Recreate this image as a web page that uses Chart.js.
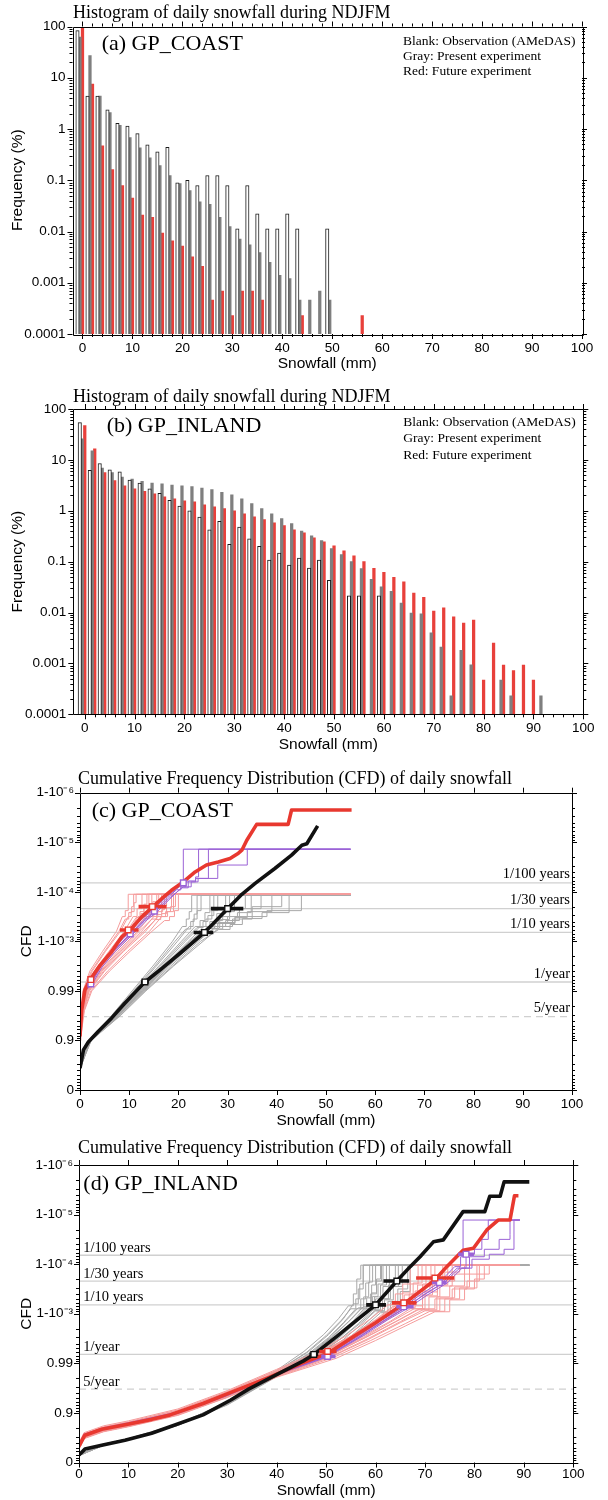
<!DOCTYPE html>
<html lang="en">
<head>
<meta charset="UTF-8">
<title>Daily snowfall: histograms and CFD</title>
<script src="https://cdn.jsdelivr.net/npm/chart.js"></script>
<style>
  body { margin: 0; width: 608px; height: 1500px; background: #fff; position: relative; overflow: hidden; }
  canvas { position: absolute; left: 0; }
</style>
</head>
<body>
<canvas id="coastHist" width="608" height="385" style="top:0px"></canvas>
<canvas id="inlandHist" width="608" height="385" style="top:385px"></canvas>
<canvas id="coastCfd" width="608" height="380" style="top:760px"></canvas>
<canvas id="inlandCfd" width="608" height="360" style="top:1140px"></canvas>
<script>
// ---------- histogram data: bin position (mm), frequency (%) ----------
var coastObsX = [-1, 1, 3, 5, 7, 9, 11, 13, 15, 17, 19, 21, 23, 25, 27, 29, 31, 33, 35, 37, 39, 41, 43, 49];
var coastObsPct = [83, 4.4, 4.4, 2.36, 1.29, 1.14, 0.81, 0.49, 0.36, 0.44, 0.089, 0.1, 0.079, 0.124, 0.124, 0.079, 0.0113, 0.079, 0.022, 0.0113, 0.0113, 0.022, 0.0113, 0.0113];
var coastPresX = [-0.5, 1.5, 3.5, 5.5, 7.5, 9.5, 11.5, 13.5, 15.5, 17.5, 19.5, 21.5, 23.5, 25.5, 27.5, 29.5, 31.5, 33.5, 35.5, 37.5, 39.5, 41.5, 43.5, 45.5, 47.5, 49.5];
var coastPresPct = [62, 27, 4.4, 2.1, 1.18, 0.68, 0.43, 0.275, 0.194, 0.124, 0.086, 0.063, 0.038, 0.034, 0.019, 0.0125, 0.0071, 0.0055, 0.0039, 0.0025, 0.0014, 0.0012, 0.00046, 0.00046, 0.00069, 0.00046];
var coastFutX = [0, 2, 4, 6, 8, 10, 12, 14, 16, 18, 20, 22, 24, 26, 28, 30, 32, 34, 36, 44, 56];
var coastFutPct = [93, 7.5, 0.47, 0.162, 0.079, 0.045, 0.021, 0.0188, 0.0093, 0.0066, 0.0052, 0.0032, 0.0021, 0.00046, 0.00069, 0.00023, 0.00069, 0.00069, 0.00046, 0.00023, 0.00023];

var inlandObsX = [-1, 1, 3, 5, 7, 9, 11, 13, 15, 17, 19, 21, 23, 25, 27, 29, 31, 33, 35, 37, 39, 41, 43, 45, 47, 49, 53, 55, 59];
var inlandObsPct = [54, 6.2, 8.5, 6.4, 5.8, 4.0, 3.5, 2.7, 2.2, 1.6, 1.24, 1.0, 0.75, 0.42, 0.62, 0.22, 0.48, 0.28, 0.2, 0.107, 0.148, 0.086, 0.118, 0.075, 0.107, 0.043, 0.0214, 0.0214, 0.0214];
var inlandPresX = [-0.5, 1.5, 3.5, 5.5, 7.5, 9.5, 11.5, 13.5, 15.5, 17.5, 19.5, 21.5, 23.5, 25.5, 27.5, 29.5, 31.5, 33.5, 35.5, 37.5, 39.5, 41.5, 43.5, 45.5, 47.5, 49.5, 51.5, 53.5, 55.5, 57.5, 59.5, 61.5, 63.5, 65.5, 67.5, 69.5, 71.5, 73.5, 75.5, 77.5, 83.5, 85.5, 91.5];
var inlandPresPct = [26, 15, 6.9, 5.6, 4.6, 4.2, 3.8, 3.5, 3.4, 3.2, 3.1, 3.0, 2.8, 2.6, 2.3, 2.06, 1.72, 1.39, 1.1, 0.87, 0.7, 0.56, 0.40, 0.32, 0.26, 0.18, 0.137, 0.1, 0.073, 0.045, 0.032, 0.026, 0.0154, 0.0098, 0.0094, 0.004, 0.0021, 0.00023, 0.0018, 0.00094, 0.00047, 0.00023, 0.00023];
var inlandFutX = [0, 2, 4, 6, 8, 10, 12, 14, 16, 18, 20, 22, 24, 26, 28, 30, 32, 34, 36, 38, 40, 42, 44, 46, 48, 50, 52, 54, 56, 58, 60, 62, 64, 66, 68, 70, 72, 74, 76, 78, 80, 82, 84, 86, 88, 90];
var inlandFutPct = [47, 16.5, 5.6, 3.9, 3.1, 2.7, 2.4, 2.16, 1.88, 1.72, 1.57, 1.5, 1.31, 1.2, 1.1, 1.0, 0.87, 0.76, 0.67, 0.58, 0.51, 0.42, 0.37, 0.295, 0.246, 0.205, 0.164, 0.13, 0.1, 0.074, 0.062, 0.049, 0.04, 0.024, 0.02, 0.0107, 0.0124, 0.0082, 0.0062, 0.0071, 0.00047, 0.0025, 0.00093, 0.00072, 0.00093, 0.00047];

var freqTicks = [0.0001, 0.001, 0.01, 0.1, 1, 10, 100];
var freqLabels = ['0.0001', '0.001', '0.01', '0.1', '1', '10', '100'];
var snowTicks = [0, 10, 20, 30, 40, 50, 60, 70, 80, 90, 100];

// ---------- CFD data: y is -log10(1 - CFD) ----------
var cfdTicks = [0, 1, 2, 3, 4, 5, 6];
var cfdLabels = ['0', '0.9', '0.99', '1-10\u207B\u00B3', '1-10\u207B\u2074', '1-10\u207B\u2075', '1-10\u207B\u2076'];
var returnLevels = [4.18, 3.66, 3.18, 2.18, 1.48];
var returnLabels = ['1/100 years', '1/30 years', '1/10 years', '1/year', '5/year'];

// GP_COAST thick curves
var coastPresAllX = [0, 0.7, 1.7, 3.7, 6.4, 9.1, 13.2, 16.6, 20.7, 25.3, 27.4, 30.0, 32.9, 35.6, 39.6, 43.0, 45.1, 46.1, 48.3];
var coastPresAllY = [0.44, 0.81, 0.97, 1.18, 1.45, 1.75, 2.18, 2.45, 2.79, 3.18, 3.39, 3.66, 3.95, 4.17, 4.47, 4.74, 4.94, 4.97, 5.33];
var coastFutAllX = [0, 0.34, 1.0, 2.0, 4.1, 6.4, 8.5, 10.2, 12.5, 14.6, 16.6, 18.6, 21.0, 23.4, 25.7, 28.1, 30.5, 32.2, 32.9, 33.9, 35.9, 42.3, 43.0, 55.2];
var coastFutAllY = [1.08, 1.61, 2.02, 2.22, 2.52, 2.79, 3.09, 3.23, 3.49, 3.68, 3.86, 4.03, 4.2, 4.4, 4.54, 4.6, 4.67, 4.78, 4.84, 5.04, 5.36, 5.36, 5.65, 5.65];

// GP_COAST members, flat x,y pairs: smooth lower part and stepped tail
var coastPresLo = [
  [0,0.45, 1.7,1.0, 6.4,1.5, 10.6,2.0, 14.8,2.5, 18.8,3.0, 20.8,3.3],
  [0,0.42, 1.8,1.0, 6.8,1.5, 11.1,2.0, 15.5,2.5, 19.8,3.0, 22.2,3.3],
  [0,0.46, 1.8,1.0, 7.0,1.5, 11.4,2.0, 16.0,2.5, 20.6,3.0, 23.4,3.3],
  [0,0.44, 1.9,1.0, 7.2,1.5, 11.8,2.0, 16.6,2.5, 21.4,3.0, 24.4,3.3],
  [0,0.43, 1.9,1.0, 7.3,1.5, 12.1,2.0, 17.0,2.5, 22.0,3.0, 25.2,3.3],
  [0,0.45, 2.0,1.0, 7.5,1.5, 12.4,2.0, 17.4,2.5, 22.6,3.0, 26.0,3.3],
  [0,0.44, 2.1,1.0, 7.7,1.5, 12.7,2.0, 17.8,2.5, 23.2,3.0, 26.8,3.3],
  [0,0.42, 2.2,1.0, 7.9,1.5, 13.0,2.0, 18.4,2.5, 24.0,3.0, 27.6,3.3],
  [0,0.46, 2.3,1.0, 8.2,1.5, 13.4,2.0, 19.0,2.5, 25.0,3.0, 28.6,3.3],
  [0,0.44, 2.0,1.0, 7.6,1.5, 12.6,2.0, 17.6,2.5, 22.8,3.0, 26.2,3.3],
  [0,0.43, 1.75,1.0, 6.6,1.5, 10.9,2.0, 15.2,2.5, 19.3,3.0, 21.5,3.25],
  [0,0.45, 1.85,1.0, 7.1,1.5, 11.6,2.0, 16.3,2.5, 21.0,3.0, 23.8,3.28],
  [0,0.44, 1.95,1.0, 7.4,1.5, 12.2,2.0, 17.2,2.5, 22.3,3.0, 25.6,3.26],
  [0,0.42, 2.05,1.0, 7.6,1.5, 12.5,2.0, 17.6,2.5, 22.9,3.0, 26.4,3.26],
  [0,0.46, 2.15,1.0, 7.8,1.5, 12.8,2.0, 18.0,2.5, 23.6,3.0, 27.2,3.25],
  [0,0.44, 2.25,1.0, 8.1,1.5, 13.2,2.0, 18.8,2.5, 24.5,3.0, 28.2,3.24]
];
var coastPresHi = [
  [20.8,3.3, 21.6,3.45, 22.2,3.6, 22.7,3.93, 55,3.93],
  [22.2,3.3, 23.0,3.45, 23.8,3.62, 24.6,3.93, 55,3.93],
  [23.4,3.3, 24.4,3.42, 25.4,3.58, 26.4,3.93, 55,3.93],
  [24.4,3.3, 25.6,3.45, 26.8,3.62, 28.0,3.93, 55,3.93],
  [25.2,3.3, 26.4,3.4, 27.8,3.56, 29.6,3.93, 55,3.93],
  [26.0,3.3, 27.4,3.42, 29.0,3.6, 31.4,3.93, 55,3.93],
  [26.8,3.3, 28.4,3.44, 30.4,3.66, 33.6,3.93, 55,3.93],
  [27.6,3.3, 29.6,3.42, 32.4,3.66, 36.8,3.93, 55,3.93],
  [28.6,3.3, 31.0,3.45, 35.0,3.7, 41.0,3.93, 55,3.93],
  [26.2,3.3, 28.0,3.38, 31.5,3.5, 38.0,3.62, 45.0,3.93, 55,3.93],
  [21.5,3.25, 22.5,3.4, 23.2,3.55, 23.8,3.93, 55,3.93],
  [23.8,3.28, 25.0,3.4, 26.0,3.52, 27.2,3.93, 55,3.93],
  [25.6,3.26, 27.0,3.36, 28.2,3.5, 30.4,3.93, 55,3.93],
  [26.4,3.26, 28.0,3.36, 30.0,3.5, 32.0,3.58, 34.8,3.93, 55,3.93],
  [27.2,3.25, 29.0,3.36, 31.5,3.48, 34.0,3.6, 39.0,3.93, 55,3.93],
  [28.2,3.24, 30.5,3.34, 33.0,3.46, 37.0,3.58, 42.5,3.93, 55,3.93]
];
var coastFutLo = [
  [0,1.0, 0.2,1.6, 0.6,2.0, 2.0,2.4, 4.6,2.8, 7.4,3.2, 8.6,3.5],
  [0,1.05, 0.3,1.6, 0.8,2.0, 2.5,2.4, 5.2,2.8, 8.2,3.2, 9.8,3.5],
  [0,0.98, 0.3,1.6, 0.9,2.0, 2.9,2.4, 5.9,2.8, 9.0,3.2, 10.8,3.5],
  [0,1.1, 0.4,1.6, 1.1,2.0, 3.2,2.4, 6.4,2.8, 9.8,3.2, 11.8,3.5],
  [0,1.02, 0.4,1.6, 1.2,2.0, 3.5,2.4, 6.9,2.8, 10.5,3.2, 12.6,3.5],
  [0,1.08, 0.5,1.6, 1.4,2.0, 3.8,2.4, 7.3,2.8, 11.1,3.2, 13.4,3.5],
  [0,0.96, 0.5,1.6, 1.5,2.0, 4.1,2.4, 7.7,2.8, 11.7,3.2, 14.2,3.5],
  [0,1.04, 0.6,1.6, 1.7,2.0, 4.5,2.4, 8.3,2.8, 12.5,3.2, 15.0,3.5],
  [0,1.0, 0.7,1.6, 1.9,2.0, 5.0,2.4, 8.9,2.8, 13.3,3.2, 15.8,3.5],
  [0,1.06, 0.8,1.6, 2.2,2.0, 5.6,2.4, 9.7,2.8, 14.1,3.2, 16.6,3.5],
  [0,1.03, 0.25,1.6, 0.7,2.0, 2.3,2.4, 5.0,2.8, 7.9,3.2, 9.2,3.45],
  [0,0.99, 0.35,1.6, 1.0,2.0, 3.0,2.4, 6.2,2.8, 9.5,3.2, 11.4,3.48],
  [0,1.07, 0.45,1.6, 1.3,2.0, 3.6,2.4, 7.0,2.8, 10.8,3.2, 13.0,3.46],
  [0,1.01, 0.55,1.6, 1.6,2.0, 4.3,2.4, 8.0,2.8, 12.0,3.2, 14.6,3.45],
  [0,1.05, 0.65,1.6, 1.8,2.0, 4.8,2.4, 8.6,2.8, 12.9,3.2, 15.4,3.44],
  [0,0.97, 0.9,1.6, 2.4,2.0, 6.0,2.4, 10.2,2.8, 14.6,3.2, 17.2,3.42]
];
var coastFutHi = [
  [8.6,3.5, 9.2,3.62, 9.8,3.95, 55,3.95],
  [9.8,3.5, 10.4,3.6, 11.0,3.78, 11.4,3.95, 55,3.95],
  [10.8,3.5, 11.6,3.66, 12.6,3.95, 55,3.95],
  [11.8,3.5, 12.4,3.56, 13.0,3.75, 13.6,3.95, 55,3.95],
  [12.6,3.5, 13.4,3.6, 14.0,3.72, 14.6,3.95, 55,3.95],
  [13.4,3.5, 14.2,3.62, 14.8,3.8, 15.6,3.95, 55,3.95],
  [14.2,3.5, 15.0,3.58, 15.8,3.7, 16.6,3.95, 55,3.95],
  [15.0,3.5, 15.8,3.6, 16.8,3.72, 17.6,3.95, 55,3.95],
  [15.8,3.5, 16.6,3.56, 17.6,3.68, 18.6,3.95, 55,3.95],
  [16.6,3.5, 17.4,3.6, 18.4,3.7, 19.4,3.95, 55,3.95],
  [9.2,3.45, 9.9,3.58, 10.5,3.7, 10.9,3.95, 55,3.95],
  [11.4,3.48, 12.2,3.6, 13.0,3.68, 14.0,3.95, 55,3.95],
  [13.0,3.46, 14.0,3.55, 15.2,3.68, 16.0,3.95, 55,3.95],
  [14.6,3.45, 15.6,3.54, 16.6,3.64, 17.2,3.95, 55,3.95],
  [15.4,3.44, 16.4,3.5, 17.8,3.6, 19.0,3.95, 55,3.95],
  [17.2,3.42, 18.2,3.5, 19.2,3.62, 20.0,3.95, 55,3.95]
];
var coastAltLo = [
  [0,1.06, 0.3,1.62, 1.0,2.0, 2.2,2.15, 4.2,2.5, 6.6,2.8, 10.2,3.15, 12.8,3.42, 15.1,3.61, 17.8,3.88, 19.6,4.04],
  [0,1.04, 0.35,1.6, 1.1,2.0, 2.4,2.13, 4.5,2.48, 7.0,2.78, 10.5,3.12, 13.2,3.4, 15.5,3.58, 18.2,3.85, 20.6,4.08],
  [0,1.08, 0.3,1.64, 0.9,2.02, 2.1,2.17, 4.0,2.52, 6.4,2.82, 9.9,3.17, 12.5,3.44, 14.8,3.63, 17.6,3.9, 20.2,4.1],
  [0,1.05, 0.3,1.6, 1.0,2.0, 2.3,2.16, 4.3,2.5, 6.8,2.8, 10.4,3.14, 13.0,3.41, 15.3,3.6, 18.0,3.86, 21.0,4.1]
];
var coastAltHi = [
  [19.6,4.04, 20.5,4.15, 21.0,4.86, 55,4.86],
  [20.6,4.08, 22.0,4.22, 23.5,4.3, 24.1,4.54, 24.1,4.86, 55,4.86],
  [20.2,4.1, 21.5,4.2, 23.5,4.27, 26.1,4.4, 26.1,4.86, 55,4.86],
  [21.0,4.1, 22.6,4.2, 24.0,4.27, 28.0,4.54, 34.0,4.86, 55,4.86]
];
var coastPresMarkX = [13.2, 25.3, 30.0], coastPresMarkY = [2.18, 3.18, 3.66];
var coastPresBarLo = [12.4, 23.1, 26.6], coastPresBarHi = [14.0, 27.1, 33.2];
var coastFutMarkX = [2.2, 9.8, 14.7], coastFutMarkY = [2.23, 3.23, 3.70];
var coastFutBarLo = [1.6, 8.1, 11.9], coastFutBarHi = [2.8, 11.9, 17.6];
var coastAltMarkX = [2.2, 10.2, 15.1, 21.0], coastAltMarkY = [2.14, 3.15, 3.61, 4.18];
var coastAltBarLo = [], coastAltBarHi = [];

// GP_INLAND thick curves
var inlandPresAllX = [0, 1.2, 4.6, 9.3, 14.7, 18.4, 25.1, 30.7, 34.3, 38.6, 45.4, 47.5, 52.1, 56.2, 60.0, 64.3, 67.0, 69.0, 71.7, 73.7, 77.7, 82.1, 83.1, 85.2, 86.0, 91.1];
var inlandPresAllY = [0.15, 0.27, 0.35, 0.45, 0.59, 0.72, 0.96, 1.26, 1.48, 1.70, 2.05, 2.18, 2.54, 2.87, 3.18, 3.66, 3.95, 4.15, 4.45, 4.49, 5.06, 5.06, 5.37, 5.37, 5.66, 5.66];
var inlandFutAllX = [0, 1.2, 4.6, 9.3, 14.7, 18.4, 25.1, 31.9, 38.6, 45.0, 50.3, 56.2, 60.0, 65.7, 69.0, 72.0, 74.4, 77.7, 79.8, 82.5, 84.8, 87.2, 88.1, 88.9];
var inlandFutAllY = [0.33, 0.55, 0.67, 0.76, 0.87, 0.96, 1.19, 1.46, 1.72, 2.0, 2.2, 2.58, 2.82, 3.2, 3.45, 3.68, 3.95, 4.28, 4.32, 4.69, 4.89, 4.89, 5.38, 5.38];

var inlandPresLo = [
  [0,0.14, 5,0.35, 10,0.46, 20,0.77, 30,1.22, 40,1.84, 46,2.22, 50,2.56, 53,2.86, 55,3.1],
  [0,0.16, 5,0.36, 10,0.47, 20,0.77, 30,1.21, 40,1.82, 46.5,2.2, 50.5,2.52, 53.5,2.82, 56,3.1],
  [0,0.15, 5,0.36, 10,0.47, 20,0.76, 30,1.2, 40,1.8, 47,2.2, 51,2.52, 54.5,2.84, 57,3.1],
  [0,0.15, 5,0.35, 10,0.46, 20,0.76, 30,1.19, 40,1.78, 47.5,2.18, 52,2.52, 55.5,2.84, 58,3.1],
  [0,0.14, 5,0.35, 10,0.46, 20,0.75, 30,1.18, 40,1.76, 48,2.18, 52.5,2.5, 56,2.82, 58.8,3.08],
  [0,0.16, 5,0.37, 10,0.48, 20,0.77, 30,1.19, 40,1.77, 48,2.16, 53,2.5, 56.5,2.8, 59.5,3.08],
  [0,0.15, 5,0.36, 10,0.47, 20,0.76, 30,1.18, 40,1.75, 48.5,2.15, 53.5,2.48, 57,2.78, 60,3.06],
  [0,0.14, 5,0.35, 10,0.46, 20,0.75, 30,1.17, 40,1.74, 49,2.14, 54,2.46, 57.5,2.76, 60.5,3.04],
  [0,0.15, 5,0.36, 10,0.47, 20,0.77, 30,1.21, 40,1.83, 46.5,2.24, 50.5,2.58, 53.5,2.9, 55.5,3.2],
  [0,0.16, 5,0.37, 10,0.48, 20,0.78, 30,1.2, 40,1.79, 47,2.2, 51.5,2.55, 55,2.88, 57.5,3.14],
  [0,0.15, 5,0.36, 10,0.47, 20,0.77, 30,1.22, 40,1.86, 45.5,2.24, 49.5,2.58, 52.5,2.9, 54.5,3.16],
  [0,0.14, 5,0.35, 10,0.46, 20,0.76, 30,1.2, 40,1.8, 47,2.22, 51,2.54, 54,2.86, 56.5,3.12],
  [0,0.16, 5,0.37, 10,0.48, 20,0.77, 30,1.18, 40,1.77, 48,2.18, 52.5,2.52, 56,2.84, 58.5,3.1],
  [0,0.15, 5,0.35, 10,0.46, 20,0.75, 30,1.17, 40,1.75, 48.5,2.17, 53,2.5, 56.8,2.8, 59.8,3.06],
  [0,0.14, 5,0.35, 10,0.46, 20,0.75, 30,1.16, 40,1.73, 49,2.15, 54,2.47, 58,2.76, 61,3.02],
  [0,0.16, 5,0.36, 10,0.47, 20,0.76, 30,1.19, 40,1.79, 47.5,2.2, 52,2.54, 55.5,2.86, 58,3.14]
];
var inlandPresHi = [
  [55,3.1, 56,3.3, 56.8,3.6, 57.5,3.98, 91.1,3.98],
  [56,3.1, 57,3.3, 58,3.62, 58.8,3.98, 91.1,3.98],
  [57,3.1, 58.2,3.32, 59.2,3.58, 60,3.98, 91.1,3.98],
  [58,3.1, 59.4,3.35, 60.5,3.6, 61.5,3.98, 91.1,3.98],
  [58.8,3.08, 60,3.3, 61.5,3.55, 62.8,3.98, 91.1,3.98],
  [59.5,3.08, 61,3.3, 62.6,3.58, 64,3.98, 91.1,3.98],
  [60,3.06, 61.8,3.28, 63.6,3.55, 65.4,3.98, 91.1,3.98],
  [60.5,3.04, 62.5,3.25, 64.5,3.5, 66.5,3.98, 91.1,3.98],
  [55.5,3.2, 56.5,3.5, 57.5,3.98, 91.1,3.98],
  [57.5,3.14, 59,3.4, 60.2,3.7, 61,3.98, 91.1,3.98],
  [54.5,3.16, 55.5,3.4, 56.2,3.7, 57,3.98, 91.1,3.98],
  [56.5,3.12, 57.6,3.34, 58.6,3.64, 59.4,3.98, 91.1,3.98],
  [58.5,3.1, 59.8,3.34, 61,3.58, 62.2,3.98, 91.1,3.98],
  [59.8,3.06, 61.4,3.3, 63,3.55, 64.6,3.98, 91.1,3.98],
  [61,3.02, 63,3.22, 65,3.45, 67,3.98, 91.1,3.98],
  [58,3.14, 59.2,3.42, 60.2,3.66, 61.2,3.98, 91.1,3.98]
];
var inlandFutLo = [
  [0,0.40, 1,0.60, 5,0.74, 10,0.84, 20,1.08, 30,1.45, 40,1.88, 48,2.22, 54,2.55, 59,2.9, 62.5,3.18],
  [0,0.36, 1,0.57, 5,0.71, 10,0.81, 20,1.05, 30,1.42, 40,1.85, 48,2.18, 54.5,2.52, 60,2.88, 63.5,3.15],
  [0,0.34, 1,0.55, 5,0.69, 10,0.79, 20,1.03, 30,1.4, 40,1.82, 49,2.2, 55,2.52, 61,2.88, 64.8,3.15],
  [0,0.31, 1,0.53, 5,0.67, 10,0.77, 20,1.0, 30,1.37, 40,1.8, 49.5,2.18, 56,2.52, 62,2.86, 66,3.12],
  [0,0.30, 1,0.52, 5,0.66, 10,0.76, 20,0.99, 30,1.35, 40,1.77, 50,2.16, 57,2.52, 63,2.85, 67,3.1],
  [0,0.28, 1,0.5, 5,0.64, 10,0.74, 20,0.97, 30,1.33, 40,1.75, 50.5,2.14, 57.5,2.5, 64,2.84, 68.4,3.08],
  [0,0.29, 1,0.51, 5,0.65, 10,0.75, 20,0.98, 30,1.34, 40,1.76, 51,2.14, 58.5,2.5, 65,2.84, 69.6,3.08],
  [0,0.27, 1,0.49, 5,0.63, 10,0.73, 20,0.96, 30,1.32, 40,1.73, 51.5,2.12, 59,2.46, 66,2.8, 71,3.05],
  [0,0.33, 1,0.55, 5,0.68, 10,0.78, 20,1.01, 30,1.38, 40,1.8, 50,2.18, 56.5,2.54, 62.5,2.9, 66.5,3.16],
  [0,0.26, 1,0.48, 5,0.62, 10,0.72, 20,0.95, 30,1.31, 40,1.72, 52,2.1, 60,2.46, 67,2.8, 72,3.04],
  [0,0.38, 1,0.58, 5,0.72, 10,0.82, 20,1.06, 30,1.43, 40,1.86, 48.5,2.2, 55,2.55, 60.5,2.9, 64,3.16],
  [0,0.32, 1,0.54, 5,0.68, 10,0.78, 20,1.01, 30,1.38, 40,1.81, 49.5,2.19, 56,2.54, 62,2.88, 65.5,3.13],
  [0,0.29, 1,0.51, 5,0.65, 10,0.75, 20,0.98, 30,1.35, 40,1.77, 50,2.15, 57.5,2.52, 63.5,2.86, 67.8,3.1],
  [0,0.27, 1,0.49, 5,0.63, 10,0.73, 20,0.96, 30,1.32, 40,1.74, 51,2.13, 58.5,2.48, 65,2.82, 70,3.06],
  [0,0.35, 1,0.56, 5,0.7, 10,0.8, 20,1.03, 30,1.4, 40,1.83, 49,2.2, 55.5,2.56, 61.5,2.92, 65,3.2],
  [0,0.31, 1,0.52, 5,0.66, 10,0.76, 20,0.99, 30,1.36, 40,1.78, 50.5,2.16, 58,2.52, 64.5,2.86, 69,3.1]
];
var inlandFutHi = [
  [62.5,3.18, 64,3.4, 65.5,3.6, 67,3.98, 89.2,3.98],
  [63.5,3.15, 65.5,3.42, 67,3.6, 68.6,3.98, 89.2,3.98],
  [64.8,3.15, 66.8,3.4, 68.5,3.58, 70.2,3.98, 89.2,3.98],
  [66,3.12, 68,3.36, 70,3.56, 72,3.98, 89.2,3.98],
  [67,3.1, 69.5,3.38, 71.5,3.6, 73.6,3.98, 89.2,3.98],
  [68.4,3.08, 70.8,3.34, 73,3.56, 75.5,3.98, 89.2,3.98],
  [69.6,3.08, 72.4,3.34, 75,3.56, 78,3.98, 89.2,3.98],
  [71,3.05, 74,3.3, 77,3.52, 80.5,3.98, 89.2,3.98],
  [66.5,3.16, 69.5,3.44, 72.5,3.66, 76,3.8, 83,3.98, 89.2,3.98],
  [72,3.04, 75,3.28, 78,3.5, 80,3.7, 82,3.98, 89.2,3.98],
  [64,3.16, 65.8,3.38, 67.6,3.62, 69.4,3.98, 89.2,3.98],
  [65.5,3.13, 67.5,3.4, 69.5,3.6, 71.2,3.98, 89.2,3.98],
  [67.8,3.1, 70,3.36, 72.5,3.58, 74.6,3.98, 89.2,3.98],
  [70,3.06, 73,3.32, 76,3.54, 79,3.98, 89.2,3.98],
  [65,3.2, 68,3.46, 71,3.7, 74,3.84, 77,3.98, 89.2,3.98],
  [69,3.1, 72,3.3, 75.5,3.5, 78.5,3.66, 81,3.98, 89.2,3.98]
];
var inlandAltLo = [
  [0,0.35, 1,0.57, 5,0.7, 10,0.8, 20,1.02, 30,1.38, 40,1.8, 50,2.15, 56,2.52, 61,2.85, 65.7,3.14, 69,3.38, 72.9,3.63, 76,3.95],
  [0,0.33, 1,0.55, 5,0.68, 10,0.78, 20,1.0, 30,1.36, 40,1.78, 50,2.13, 56.5,2.52, 61.5,2.85, 66,3.12, 69.5,3.36, 73.2,3.6, 76.5,3.92],
  [0,0.34, 1,0.56, 5,0.69, 10,0.79, 20,1.01, 30,1.37, 40,1.79, 50,2.14, 57,2.55, 62,2.88, 66.5,3.15, 70,3.4, 73.8,3.62, 77,3.92],
  [0,0.32, 1,0.54, 5,0.67, 10,0.77, 20,0.99, 30,1.35, 40,1.77, 50,2.12, 57.5,2.56, 62.5,2.88, 67,3.14, 70.5,3.38, 74.5,3.62, 77.5,3.92]
];
var inlandAltHi = [
  [76,3.95, 77.2,4.15, 77.7,4.89, 89.2,4.89],
  [76.5,3.92, 78.3,4.2, 80,4.3, 81.5,4.5, 82.8,4.89, 89.2,4.89],
  [77,3.92, 79,4.15, 82,4.3, 85,4.5, 87.2,4.6, 87.2,4.89, 89.2,4.89],
  [77.5,3.92, 79.5,4.1, 83,4.2, 86,4.3, 88,4.89, 89.2,4.89]
];
var inlandPresMarkX = [47.5, 60.0, 64.3], inlandPresMarkY = [2.18, 3.18, 3.66];
var inlandPresBarLo = [46.6, 58.1, 61.6], inlandPresBarHi = [48.4, 62.1, 66.8];
var inlandFutMarkX = [50.3, 65.7, 72.0], inlandFutMarkY = [2.24, 3.22, 3.72];
var inlandFutBarLo = [48.6, 63.3, 68.2], inlandFutBarHi = [52.1, 68.3, 75.9];
var inlandAltMarkX = [50.3, 65.7, 72.9, 78.3], inlandAltMarkY = [2.14, 3.14, 3.63, 4.2];
var inlandAltBarLo = [49.0, 64.2, 71.4, 76.7], inlandAltBarHi = [51.9, 67.7, 74.4, 79.9];

// ---------- helpers ----------
var SERIF = '"Liberation Serif", "Times New Roman", serif';
var RED = '#e8382f', PINK = '#f59c9c', GRAY = '#a9a9a9', PURPLE = '#9b63d6';

Chart.defaults.font.family = '"Liberation Sans", Arial, sans-serif';
Chart.defaults.font.size = 13.5;
Chart.defaults.color = '#000';
Chart.defaults.animation = false;
Chart.defaults.plugins.legend.display = false;
Chart.defaults.plugins.tooltip.enabled = false;

function zip(xs, ys) {
  return xs.map(function (x, i) { return { x: x, y: ys[i] }; });
}
function pairs(flat) {
  var out = [];
  for (var i = 0; i < flat.length; i += 2) out.push({ x: flat[i], y: flat[i + 1] });
  return out;
}

// frame, outward ticks and the free text of a panel
function makeDeco(cfg) {
  return {
    id: 'deco',
    afterDraw: function (chart) {
      var ctx = chart.ctx, a = chart.chartArea, sx = chart.scales.x, sy = chart.scales.y;
      var xt = [], yt = [], v, n, m;
      for (v = 0; v <= 100; v += cfg.xStep) xt.push([v, v % 10 === 0 ? 5 : 3]);
      if (cfg.log) {
        for (n = -4; n <= 2; n++) {
          yt.push([Math.pow(10, n), 5]);
          if (n < 2) for (m = 2; m <= 9; m++) yt.push([m * Math.pow(10, n), 3]);
        }
      } else {
        for (n = 0; n <= 6; n++) {
          yt.push([n, 5]);
          if (n < 6) for (m = 2; m <= 9; m++) yt.push([n + 1 - Math.log10(m), 3]);
        }
      }
      ctx.save();
      ctx.strokeStyle = '#000';
      ctx.lineWidth = 1;
      ctx.beginPath();
      ctx.rect(Math.round(a.left) + 0.5, Math.round(a.top) + 0.5, Math.round(a.right - a.left), Math.round(a.bottom - a.top));
      xt.forEach(function (t) {
        var p = Math.round(sx.getPixelForValue(t[0])) + 0.5;
        ctx.moveTo(p, a.bottom); ctx.lineTo(p, a.bottom + t[1]);
        ctx.moveTo(p, a.top); ctx.lineTo(p, a.top - t[1]);
      });
      yt.forEach(function (t) {
        var p = Math.round(sy.getPixelForValue(t[0])) + 0.5;
        ctx.moveTo(a.left, p); ctx.lineTo(a.left - t[1], p);
        ctx.moveTo(a.right, p); ctx.lineTo(a.right + t[1], p);
      });
      ctx.stroke();

      ctx.fillStyle = '#000';
      ctx.textBaseline = 'middle';
      cfg.texts.forEach(function (t) {
        ctx.font = t[3];
        ctx.textAlign = t[4] || 'left';
        ctx.fillText(t[0], t[1], t[2]);
      });
      if (cfg.levelX) {
        ctx.font = '14.5px ' + SERIF;
        ctx.textAlign = cfg.levelAlign;
        ctx.textBaseline = 'bottom';
        returnLevels.forEach(function (lv, i) {
          ctx.fillText(returnLabels[i], cfg.levelX, sy.getPixelForValue(lv) + cfg.levelDy);
        });
      }
      ctx.restore();
    }
  };
}

function xAxis(min, height, titlePad, tickPad) {
  return {
    type: 'linear', min: min, max: 100, offset: false,
    grid: { display: false, drawTicks: false }, border: { display: false },
    afterBuildTicks: function (s) { s.ticks = snowTicks.map(function (v) { return { value: v }; }); },
    afterFit: function (s) { s.height = height; },
    ticks: { padding: tickPad, maxRotation: 0, autoSkip: false },
    title: { display: true, text: 'Snowfall (mm)', font: { size: 15.5 }, padding: { top: 0, bottom: titlePad } }
  };
}

function histChart(id, obsX, obsPct, presX, presPct, futX, futPct, xMin, area, cfg) {
  new Chart(document.getElementById(id), {
    type: 'bar',
    data: {
      datasets: [
        { data: zip(obsX, obsPct), backgroundColor: '#ffffff', borderColor: '#1a1a1a', borderWidth: 1, barThickness: 3.4, grouped: false },
        { data: zip(presX, presPct), backgroundColor: '#7f7f7f', borderWidth: 0, barThickness: 2.6, grouped: false },
        { data: zip(futX, futPct), backgroundColor: '#e8403b', borderWidth: 0, barThickness: 2.6, grouped: false }
      ]
    },
    options: {
      responsive: false, devicePixelRatio: 1,
      layout: { padding: { top: area.top, right: area.right, left: 0, bottom: 0 } },
      scales: {
        x: xAxis(xMin, area.xh, area.tpad, 6),
        y: {
          type: 'logarithmic', min: 0.0001, max: 100,
          grid: { display: false, drawTicks: false }, border: { display: false },
          afterBuildTicks: function (s) { s.ticks = freqTicks.map(function (v) { return { value: v }; }); },
          afterFit: function (s) { s.width = area.left; },
          ticks: { padding: 7, autoSkip: false, callback: function (v, i) { return freqLabels[i]; } },
          title: { display: true, text: 'Frequency (%)', font: { size: 15.5 }, padding: { top: 8.7, bottom: 0 } }
        }
      }
    },
    plugins: [makeDeco(cfg)]
  });
}

function cfdChart(id, p, area, cfg) {
  var ds = [];
  returnLevels.forEach(function (lv, i) {
    ds.push({ data: [{ x: 0, y: lv }, { x: 100, y: lv }], borderColor: '#d0d0d0', borderWidth: 1.3,
      borderDash: i === returnLevels.length - 1 ? [7, 5] : [], order: 20 });
  });
  function thin(list, color, stepped, order) {
    list.forEach(function (m) {
      ds.push({ data: pairs(m), borderColor: color, borderWidth: 1, stepped: stepped, order: order });
    });
  }
  thin(p.presLo, GRAY, false, 14); thin(p.presHi, GRAY, true, 14);
  thin(p.futLo, PINK, false, 13); thin(p.futHi, PINK, true, 13);
  thin(p.altLo, PURPLE, false, 12); thin(p.altHi, PURPLE, true, 12);
  ds.push({ data: zip(p.futX, p.futY), borderColor: RED, borderWidth: 3.6, order: 6 });
  ds.push({ data: zip(p.presX, p.presY), borderColor: '#111111', borderWidth: 3.6, order: 5 });
  function bars(lo, hi, y, color) {
    lo.forEach(function (l, i) {
      ds.push({ data: [{ x: l, y: y[i] }, { x: hi[i], y: y[i] }], borderColor: color, borderWidth: 3.6, borderCapStyle: 'butt', order: 2 });
    });
  }
  bars(p.presBarLo, p.presBarHi, p.presMarkY, '#111111');
  bars(p.futBarLo, p.futBarHi, p.futMarkY, RED);
  bars(p.altBarLo, p.altBarHi, p.altMarkY, PURPLE);
  function marks(x, y, color) {
    ds.push({ data: zip(x, y), showLine: false, pointStyle: 'rect', pointRadius: 4, pointBackgroundColor: '#ffffff',
      pointBorderColor: color, pointBorderWidth: 1.4, order: 1 });
  }
  marks(p.presMarkX, p.presMarkY, '#111111');
  marks(p.futMarkX, p.futMarkY, RED);
  marks(p.altMarkX, p.altMarkY, PURPLE);

  new Chart(document.getElementById(id), {
    type: 'line',
    data: { datasets: ds },
    options: {
      responsive: false, devicePixelRatio: 1,
      layout: { padding: { top: area.top, right: area.right, left: 0, bottom: 0 } },
      elements: { point: { radius: 0 }, line: { tension: 0, borderJoinStyle: 'round' } },
      scales: {
        x: xAxis(0, area.xh, area.tpad, area.tickPad),
        y: {
          type: 'linear', min: 0, max: 6,
          grid: { display: false, drawTicks: false }, border: { display: false },
          afterBuildTicks: function (s) { s.ticks = cfdTicks.map(function (v) { return { value: v }; }); },
          afterFit: function (s) { s.width = area.left; },
          ticks: { padding: 6, autoSkip: false, callback: function (v, i) { return cfdLabels[i]; } },
          title: { display: true, text: 'CFD', font: { size: 15.5 }, padding: { top: 17.4, bottom: 0 } }
        }
      }
    },
    plugins: [makeDeco(cfg)]
  });
}

// ---------- panels ----------
histChart('coastHist', coastObsX, coastObsPct, coastPresX, coastPresPct, coastFutX, coastFutPct, -2,
  { top: 26.5, right: 26, left: 72.5, xh: 51, tpad: 11.7 },
  { xStep: 2, log: true, texts: [
    ['Histogram of daily snowfall during NDJFM', 73, 13, '18px ' + SERIF],
    ['(a) GP_COAST', 101.7, 44, '22px ' + SERIF],
    ['Blank: Observation (AMeDAS)', 403, 41, '13.5px ' + SERIF],
    ['Gray: Present experiment', 403, 56.7, '13.5px ' + SERIF],
    ['Red: Future experiment', 403, 71.7, '13.5px ' + SERIF]
  ] });

histChart('inlandHist', inlandObsX, inlandObsPct, inlandPresX, inlandPresPct, inlandFutX, inlandFutPct, -2.3,
  { top: 24, right: 24.7, left: 73.3, xh: 55.7, tpad: 15.7 },
  { xStep: 2, log: true, texts: [
    ['Histogram of daily snowfall during NDJFM', 73, 12.3, '18px ' + SERIF],
    ['(b) GP_INLAND', 106.7, 41.7, '22px ' + SERIF],
    ['Blank: Observation (AMeDAS)', 403.3, 37.7, '13.5px ' + SERIF],
    ['Gray: Present experiment', 403.3, 53.3, '13.5px ' + SERIF],
    ['Red: Future experiment', 403.3, 70, '13.5px ' + SERIF]
  ] });

cfdChart('coastCfd', {
  presLo: coastPresLo, presHi: coastPresHi, futLo: coastFutLo, futHi: coastFutHi, altLo: coastAltLo, altHi: coastAltHi,
  presX: coastPresAllX, presY: coastPresAllY, futX: coastFutAllX, futY: coastFutAllY,
  presMarkX: coastPresMarkX, presMarkY: coastPresMarkY, presBarLo: coastPresBarLo, presBarHi: coastPresBarHi,
  futMarkX: coastFutMarkX, futMarkY: coastFutMarkY, futBarLo: coastFutBarLo, futBarHi: coastFutBarHi,
  altMarkX: coastAltMarkX, altMarkY: coastAltMarkY, altBarLo: coastAltBarLo, altBarHi: coastAltBarHi
}, { top: 32.7, right: 36, left: 80, xh: 50, tpad: 9.7, tickPad: 6 },
  { xStep: 10, log: false, levelX: 570, levelAlign: 'right', levelDy: -1, texts: [
    ['Cumulative Frequency Distribution (CFD) of daily snowfall', 78, 19, '18px ' + SERIF],
    ['(c) GP_COAST', 91.7, 51.7, '22px ' + SERIF]
  ] });

cfdChart('inlandCfd', {
  presLo: inlandPresLo, presHi: inlandPresHi, futLo: inlandFutLo, futHi: inlandFutHi, altLo: inlandAltLo, altHi: inlandAltHi,
  presX: inlandPresAllX, presY: inlandPresAllY, futX: inlandFutAllX, futY: inlandFutAllY,
  presMarkX: inlandPresMarkX, presMarkY: inlandPresMarkY, presBarLo: inlandPresBarLo, presBarHi: inlandPresBarHi,
  futMarkX: inlandFutMarkX, futMarkY: inlandFutMarkY, futBarLo: inlandFutBarLo, futBarHi: inlandFutBarHi,
  altMarkX: inlandAltMarkX, altMarkY: inlandAltMarkY, altBarLo: inlandAltBarLo, altBarHi: inlandAltBarHi
}, { top: 25, right: 34.7, left: 79, xh: 37.5, tpad: 0, tickPad: 4 },
  { xStep: 10, log: false, levelX: 83.3, levelAlign: 'left', levelDy: 0, texts: [
    ['Cumulative Frequency Distribution (CFD) of daily snowfall', 78, 8, '18px ' + SERIF],
    ['(d) GP_INLAND', 83.3, 44, '22px ' + SERIF]
  ] });
</script>
</body>
</html>
